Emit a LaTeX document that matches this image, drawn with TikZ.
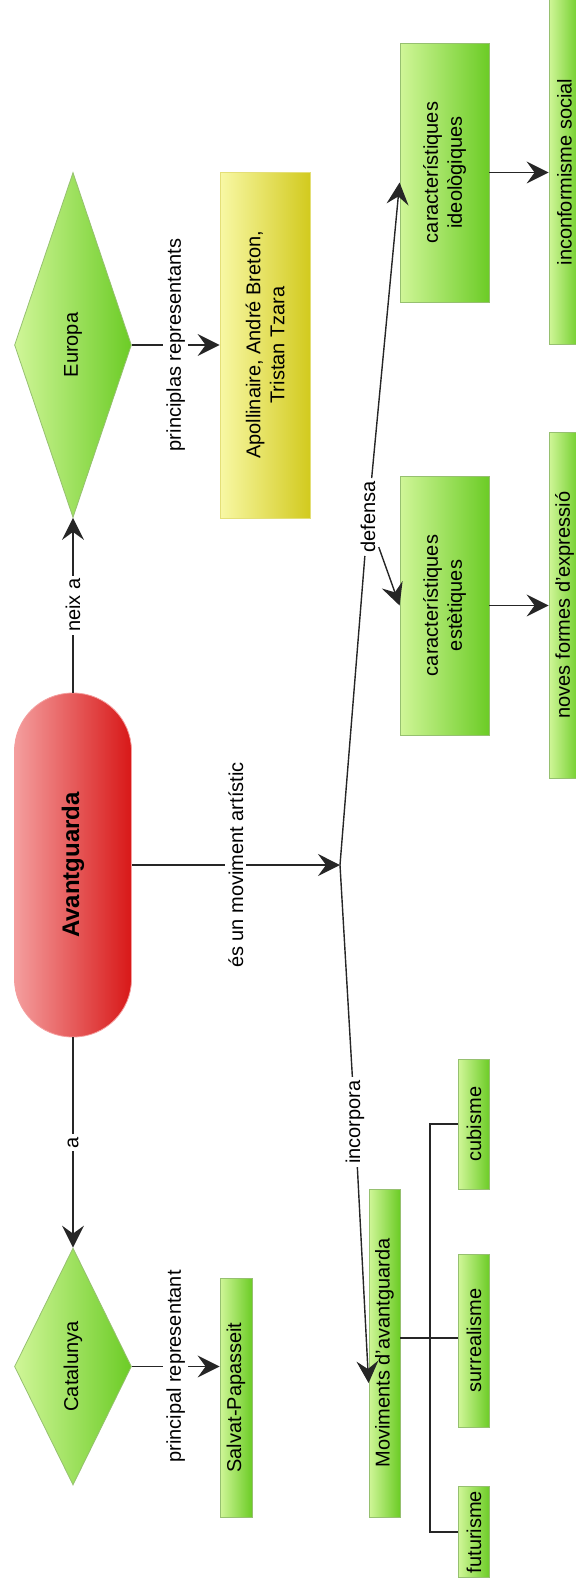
\documentclass[tikz,border=0pt]{standalone}
\usepackage{fontspec}
\setmainfont{Liberation Sans}
\usetikzlibrary{shapes.geometric,arrows.meta,calc}

\definecolor{grlight}{RGB}{208,246,152}
\definecolor{grdark}{RGB}{108,204,38}
\definecolor{grline}{RGB}{150,192,112}
\definecolor{yelight}{RGB}{248,248,165}
\definecolor{yedark}{RGB}{210,202,30}
\definecolor{relight}{RGB}{244,158,158}
\definecolor{redark}{RGB}{216,24,24}

\begin{document}
\begin{tikzpicture}[x=0.5pt,y=-0.5pt,font=\fontsize{10}{12}\selectfont,
			concept/.style={draw=grline,line width=0.4pt,rotate=90,left color=grlight,right color=grdark,
				inner sep=2pt,align=center},
			place/.style={concept,diamond,inner sep=0pt},
			lbl/.style={rotate=90,fill=white,inner sep=1.5pt},
			conn/.style={draw=black!85,line width=0.7pt},
			arr/.style={conn,-{Stealth[length=11pt,width=11pt,inset=4pt]}}]
			\useasboundingbox (0,0) rectangle (576,1587);
			\node[place,minimum width=172.5pt,minimum height=58.5pt] (europa) at (73,345) {Europa};
			\node[concept,left color=yelight,right color=yedark,draw=yedark!60,
				minimum width=173pt,minimum height=45pt] (apoll) at (265,345) {Apollinaire, André Breton,\\Tristan Tzara};
			\node[concept,minimum width=129.5pt,minimum height=44.5pt] (ideol) at (444.5,172.5) {característiques\\ideològiques};
			\node[concept,minimum width=172.5pt,minimum height=15.5pt] (incon) at (564.5,172) {inconformisme social};
			\node[concept,minimum width=129.5pt,minimum height=44.5pt] (estet) at (444.5,605.5) {característiques\\estètiques};
			\node[concept,minimum width=173pt,minimum height=15.5pt] (noves) at (564.5,605) {noves formes d'expressió};
			\node[concept,rectangle,rounded corners=29pt,left color=relight,right color=redark,draw=relight,
				minimum width=172pt,minimum height=58.5pt,font=\fontsize{12}{14}\selectfont\bfseries] (avant) at (73,865) {Avantguarda};
			\coordinate (junc) at (340,865);
			\node[lbl] (defensa) at (368,517) {defensa};
			\node[lbl] (incorp) at (355,1122) {incorpora};
			\node[place,minimum width=118.5pt,minimum height=58.5pt] (cat) at (73,1366.5) {Catalunya};
			\node[concept,minimum width=119.5pt,minimum height=16pt] (salv) at (236,1397.5) {Salvat-Papasseit};
			\node[concept,minimum width=164pt,minimum height=15.5pt] (movim) at (384.5,1353) {Moviments d'avantguarda};
			\node[concept,minimum width=65pt,minimum height=15.5pt] (cubis) at (474,1124) {cubisme};
			\node[concept,minimum width=86.5pt,minimum height=15.5pt] (surr) at (474,1340.5) {surrealisme};
			\node[concept,minimum width=45pt,minimum height=15.5pt] (futur) at (474,1532) {futurisme};
			\coordinate (hub) at (430,1338);

			\draw[arr] (avant.east) -- node[lbl] {neix a} (europa.west);
			\draw[arr] (europa.south) -- node[lbl] {principlas representants} (europa.south -| apoll.north);
			\draw[arr] (avant.south) -- node[lbl] {és un moviment artístic} (junc);
			\draw[conn] (junc) -- (defensa);
			\draw[arr] (defensa) -- ($(ideol.north)+(0,10)$);
			\draw[arr] (defensa) -- (estet.north);
			\draw[arr] (ideol.south) -- (ideol.south -| incon.north);
			\draw[arr] (estet.south) -- (estet.south -| noves.north);
			\draw[conn] (junc) -- (incorp);
			\draw[arr] (incorp) -- ($(movim.north)+(0,30)$);
			\draw[arr] (avant.west) -- node[lbl] {a} (cat.east);
			\draw[arr] (cat.south) -- node[lbl] {principal representant} (cat.south -| salv.north);
			\draw[conn] (movim.south |- hub) -- (hub) -- (surr.north |- hub);
			\draw[conn] (cubis.north) -| (hub) |- (futur.north);
		\end{tikzpicture}
\end{document}
